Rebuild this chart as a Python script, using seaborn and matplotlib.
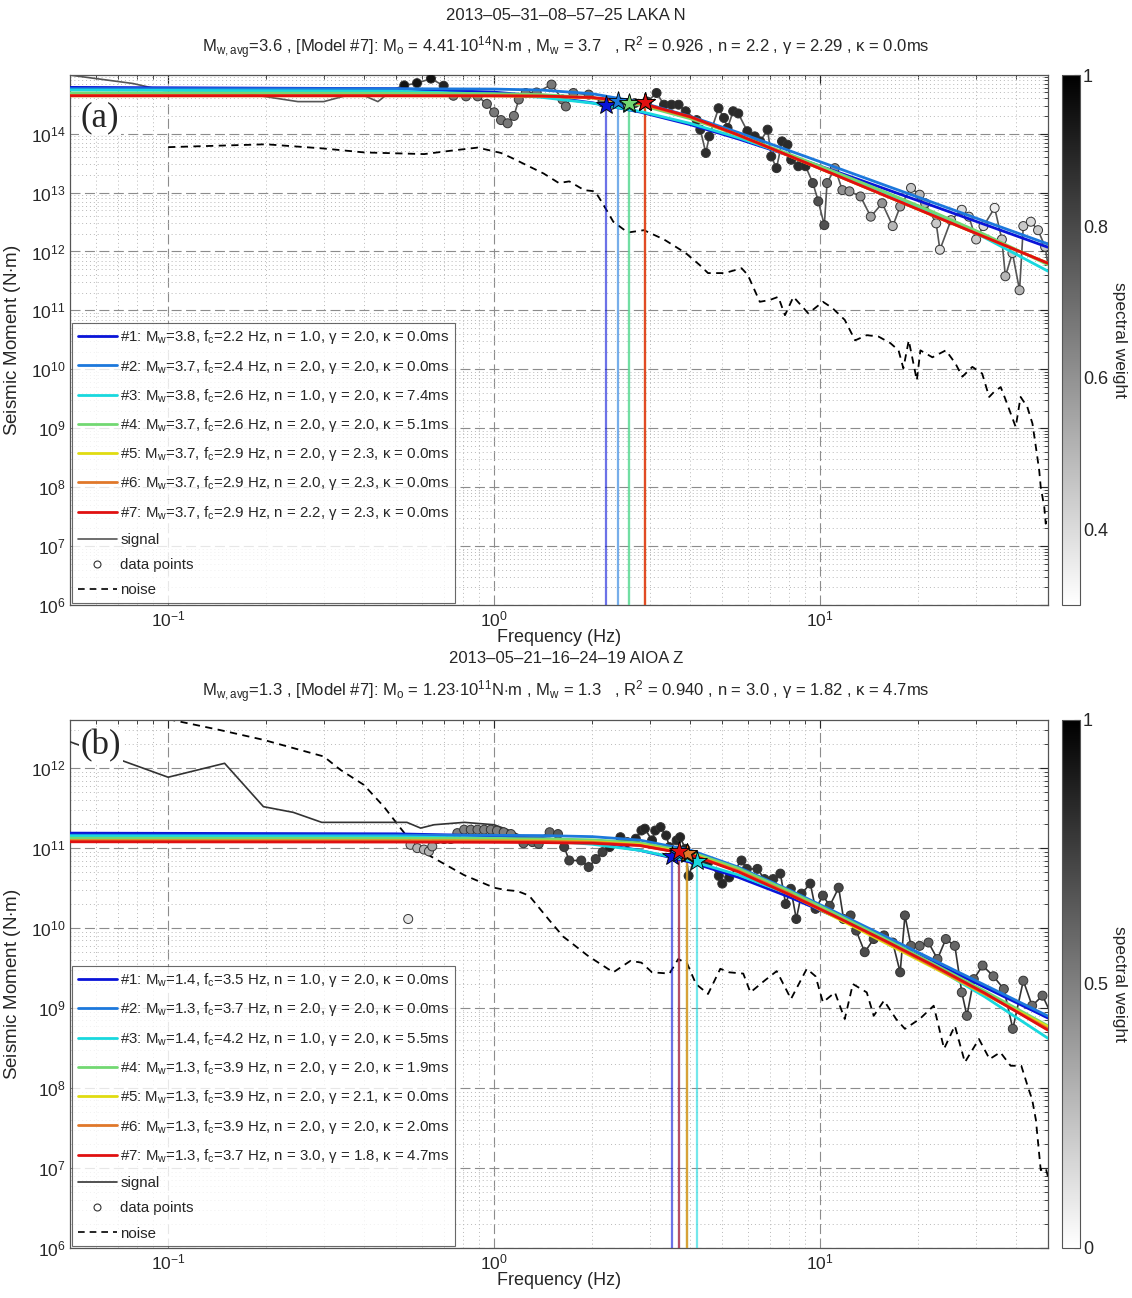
import numpy as np
import matplotlib
matplotlib.use("Agg")
import matplotlib.pyplot as plt
from matplotlib.lines import Line2D
from matplotlib.ticker import FixedLocator, LogLocator, NullFormatter
from matplotlib.colors import Normalize
from matplotlib.cm import ScalarMappable
import seaborn as sns

sns.set_style("white")
plt.rcParams['font.family'] = ['Liberation Sans', 'DejaVu Sans']
plt.rcParams['mathtext.fontset'] = 'custom'
plt.rcParams['mathtext.rm'] = 'Liberation Sans'
plt.rcParams['mathtext.it'] = 'Liberation Sans:italic'
plt.rcParams['mathtext.bf'] = 'Liberation Sans:bold'

# ---------------- panel (a) : 2013-05-31-08-57-25 LAKA N ----------------
title1_a = "2013\u201305\u201331\u201308\u201357\u201325 LAKA N"
title2_a = (r"M$_\mathrm{w,avg}$=3.6 , [Model #7]: M$_\mathrm{o}$ = 4.41$\cdot$10$^{14}$N$\cdot$m , "
            r"M$_\mathrm{w}$ = 3.7   , R$^2$ = 0.926 , n = 2.2 , γ = 2.29 , κ = 0.0ms")

sig_a_f = [0.049, 0.078, 0.097, 0.15, 0.25, 0.30, 0.35, 0.40, 0.44, 0.49, 0.53, 0.58, 0.64, 0.70,
           0.75, 0.82, 0.89, 0.95, 1.0, 1.05, 1.10, 1.15, 1.19, 1.25, 1.35, 1.50, 1.62, 1.66, 1.75,
           1.95, 2.15, 2.4, 2.7, 2.95, 3.15, 3.32, 3.5, 3.68, 3.87, 4.18, 4.29, 4.46, 4.57, 4.88,
           5.07, 5.20, 5.41, 5.61, 5.98, 6.3, 6.55, 6.9, 7.08, 7.35, 7.64, 7.94, 8.15, 8.57, 9.02,
           9.5, 9.87, 10.3, 10.5, 11.1, 11.7, 12.3, 13.3, 14.3, 15.5, 16.7, 17.6, 19.0, 20.2, 21.0,
           22.7, 23.3, 25.2, 27.2, 28.6, 30.1, 31.7, 34.3, 36.1, 37.0, 38.9, 40.9, 42.0, 44.3, 46.6,
           49.0, 50.0]
sig_a_m = [1.0e15, 7.1e14, 5.4e14, 5.4e14, 3.5e14, 3.5e14, 4.4e14, 4.4e14, 3.5e14, 5.6e14, 6.6e14,
           7.2e14, 8.6e14, 6.5e14, 4.4e14, 4.3e14, 4.3e14, 3.2e14, 2.3e14, 1.7e14, 1.5e14, 2.0e14,
           3.8e14, 4.9e14, 5.0e14, 6.8e14, 3.8e14, 2.9e14, 4.9e14, 4.6e14, 3.4e14, 3.3e14, 3.3e14,
           3.5e14, 4.9e14, 3.1e14, 3.1e14, 3.1e14, 2.4e14, 1.7e14, 1.17e14, 4.7e13, 9.0e13, 2.7e14,
           1.85e14, 1.25e14, 2.4e14, 2.2e14, 1.1e14, 9.0e13, 7.4e13, 1.17e14, 4.1e13, 2.6e13, 7.4e13,
           6.5e13, 3.6e13, 2.8e13, 2.8e13, 1.45e13, 7.1e12, 2.8e12, 1.45e13, 2.6e13, 1.1e13, 1.05e13,
           8.6e12, 3.9e12, 6.6e12, 2.7e12, 5.8e12, 1.2e13, 9.2e12, 6.6e12, 3.0e12, 1.07e12, 3.4e12,
           5.1e12, 3.9e12, 1.6e12, 2.7e12, 5.5e12, 1.6e12, 3.8e11, 9.4e11, 2.2e11, 2.7e12, 3.2e12,
           2.3e12, 1.2e12, 5.9e11]

# data points (a) sit on the signal between 0.53 Hz and 49 Hz
pts_a_f = sig_a_f[10:90]
pts_a_m = sig_a_m[10:90]
pts_a_w = [0.95, 0.95, 0.95, 0.9, 0.67, 0.67, 0.67, 0.67, 0.67, 0.67, 0.67, 0.67, 0.67, 0.67,
           0.67, 0.67, 0.67, 0.67, 0.67, 0.7, 0.75, 0.75, 0.8, 0.85,
           0.88, 0.88, 0.88, 0.88, 0.88, 0.88, 0.88, 0.88, 0.88, 0.88, 0.88, 0.88, 0.88, 0.88,
           0.88, 0.88, 0.88, 0.88, 0.88, 0.88, 0.88, 0.88, 0.88, 0.88, 0.88,
           0.8, 0.78, 0.78, 0.7, 0.6, 0.6, 0.58, 0.6, 0.55, 0.6, 0.5, 0.55, 0.45, 0.5, 0.5, 0.45,
           0.4, 0.45, 0.4, 0.45, 0.45, 0.4, 0.35, 0.45, 0.5, 0.45, 0.5, 0.45, 0.4, 0.45, 0.45]

noise_a_f = [0.1, 0.15, 0.2, 0.3, 0.4, 0.61, 0.75, 0.89, 1.05, 1.13, 1.42, 1.58, 1.70, 1.89, 2.04,
             2.15, 2.32, 2.57, 2.88, 3.32, 3.87, 4.27, 4.53, 5.1, 5.74, 6.0, 6.53, 7.0, 7.44, 7.8,
             8.28, 9.2, 10.2, 10.9, 11.9, 12.8, 13.9, 15.1, 16.4, 17.4, 18.0, 18.7, 19.8, 20.3,
             22.1, 24.3, 26.0, 27.3, 29.3, 31.4, 33.0, 34.1, 35.8, 37.1, 39.8, 41.2, 43.2, 44.8,
             45.9, 47.0, 47.5, 48.7, 49.2, 49.8]
noise_a_m = [5.9e13, 6.3e13, 6.6e13, 5.6e13, 4.8e13, 4.5e13, 5.2e13, 5.8e13, 4.7e13, 3.9e13,
             2.1e13, 1.45e13, 1.55e13, 1.1e13, 1.05e13, 6.6e12, 3.2e12, 2.1e12, 2.3e12, 1.6e12,
             9.4e11, 5.9e11, 4.3e11, 4.3e11, 5.2e11, 4.0e11, 1.4e11, 1.5e11, 1.7e11, 8.3e10,
             1.7e11, 8.9e10, 1.4e11, 1.1e11, 6.9e10, 3.1e10, 3.8e10, 3.6e10, 2.8e10, 2.1e10,
             1.04e10, 3.1e10, 6.5e9, 2.1e10, 1.6e10, 2.1e10, 1.26e10, 7.5e9, 1.1e10, 8.5e9,
             3.4e9, 4.1e9, 5.0e9, 3.0e9, 1.05e9, 3.4e9, 2.3e9, 1.2e9, 4.8e8, 1.9e8, 1.0e8,
             4.6e7, 2.4e7, 3.1e7]

# model spectra read at these frequencies
model_f = [0.05, 0.5, 1, 1.4, 2, 2.8, 4, 5.6, 8, 11, 16, 22, 32, 50]

mod_a = [
    [6.1e14, 5.80e14, 5.06e14, 4.34e14, 3.34e14, 2.33e14, 1.42e14, 8.16e13, 4.29e13, 2.35e13, 1.13e13, 6.04e12, 2.87e12, 1.18e12],
    [5.8e14, 5.79e14, 5.71e14, 5.49e14, 4.76e14, 3.43e14, 1.96e14, 1.05e14, 5.2e13, 2.76e13, 1.30e13, 6.9e12, 3.26e12, 1.34e12],
    [5.5e14, 5.24e14, 4.68e14, 4.13e14, 3.30e14, 2.39e14, 1.49e14, 8.56e13, 4.36e13, 2.25e13, 9.76e12, 4.55e12, 1.71e12, 4.64e11],
    [4.9e14, 4.86e14, 4.77e14, 4.60e14, 4.08e14, 3.06e14, 1.79e14, 9.45e13, 4.53e13, 2.29e13, 1.00e13, 4.81e12, 1.94e12, 5.95e11],
    [4.4e14, 4.4e14, 4.38e14, 4.32e14, 4.05e14, 3.23e14, 1.895e14, 9.47e13, 4.24e13, 2.05e13, 8.66e12, 4.16e12, 1.76e12, 6.31e11],
    [4.4e14, 4.4e14, 4.38e14, 4.32e14, 4.05e14, 3.23e14, 1.895e14, 9.47e13, 4.24e13, 2.05e13, 8.66e12, 4.16e12, 1.76e12, 6.31e11],
    [4.4e14, 4.4e14, 4.39e14, 4.35e14, 4.12e14, 3.34e14, 1.936e14, 9.54e13, 4.25e13, 2.05e13, 8.66e12, 4.16e12, 1.76e12, 6.31e11],
]
mw_a = [3.8, 3.7, 3.8, 3.7, 3.7, 3.7, 3.7]
fc_a = [2.2, 2.4, 2.6, 2.6, 2.9, 2.9, 2.9]
n_a = [1.0, 2.0, 1.0, 2.0, 2.0, 2.0, 2.2]
gam_a = [2.0, 2.0, 2.0, 2.0, 2.3, 2.3, 2.3]
kap_a = [0.0, 0.0, 7.4, 5.1, 0.0, 0.0, 0.0]
star_a = [3.1e14, 3.6e14, 3.2e14, 3.3e14, 3.4e14, 3.4e14, 3.4e14]

# ---------------- panel (b) : 2013-05-21-16-24-19 AIOA Z ----------------
title1_b = "2013\u201305\u201321\u201316\u201324\u201319 AIOA Z"
title2_b = (r"M$_\mathrm{w,avg}$=1.3 , [Model #7]: M$_\mathrm{o}$ = 1.23$\cdot$10$^{11}$N$\cdot$m , "
            r"M$_\mathrm{w}$ = 1.3   , R$^2$ = 0.940 , n = 3.0 , γ = 1.82 , κ = 4.7ms")

sig_b_f = [0.049, 0.069, 0.1, 0.149, 0.196, 0.242, 0.296, 0.38, 0.54, 0.595, 0.654, 0.81, 1.0, 1.1,
           1.2, 1.31, 1.48, 1.57, 1.64, 1.70, 1.85, 1.95, 2.05, 2.15, 2.26, 2.44, 2.56, 2.72, 2.83,
           2.90, 3.05, 3.12, 3.24, 3.37, 3.45, 3.63, 3.72, 3.86, 3.95, 4.10, 4.31, 4.54, 4.89, 5.01,
           5.26, 5.74, 5.96, 6.42, 6.75, 7.18, 7.55, 7.84, 8.13, 8.45, 8.77, 9.33, 9.68, 10.2, 10.7,
           11.4, 11.8, 12.4, 12.9, 13.7, 14.6, 15.7, 16.7, 17.6, 18.2, 19.0, 20.2, 21.5, 22.9, 24.3,
           25.9, 27.2, 28.2, 29.6, 31.5, 34.0, 36.6, 39.0, 42.0, 44.7, 48.1, 50.0]
sig_b_m = [2.2e12, 1.33e12, 7.7e11, 1.15e12, 3.3e11, 2.8e11, 2.1e11, 2.1e11, 2.1e11, 1.78e11,
           1.96e11, 2.1e11, 1.96e11, 1.7e11, 1.44e11, 1.19e11, 1.58e11, 1.5e11, 1.03e11, 7.0e10,
           7.0e10, 5.8e10, 7.3e10, 8.9e10, 1.03e11, 1.37e11, 1.19e11, 1.31e11, 1.66e11, 1.75e11,
           1.25e11, 1.66e11, 1.83e11, 1.44e11, 1.03e11, 1.25e11, 1.37e11, 9.8e10, 4.5e10, 7.0e10,
           7.3e10, 6.7e10, 4.5e10, 3.6e10, 4.3e10, 7.0e10, 5.5e10, 5.5e10, 4.1e10, 4.1e10, 4.8e10,
           2.0e10, 3.1e10, 1.3e10, 2.7e10, 3.6e10, 1.74e10, 2.55e10, 1.9e10, 3.2e10, 1.3e10,
           1.44e10, 9.3e9, 5.0e9, 7.3e9, 8.1e9, 6.6e9, 2.8e9, 1.44e10, 6.0e9, 6.0e9, 6.6e9, 4.1e9,
           7.3e9, 6.0e9, 1.57e9, 8.0e8, 2.3e9, 3.4e9, 2.5e9, 1.73e9, 5.5e8, 2.2e9, 1.07e9, 1.43e9,
           1.02e9]

# data points (b): low-frequency points below the signal, then points on the signal (1.64-48 Hz)
pts_b_lo_f = [0.545, 0.554, 0.581, 0.609, 0.631, 0.646, 0.669, 0.702, 0.736, 0.771, 0.809, 0.848,
              0.889, 0.932, 0.977, 1.02, 1.07, 1.126, 1.23, 1.31, 1.37, 1.48, 1.57]
pts_b_lo_m = [1.3e10, 1.1e11, 1.0e11, 9.6e10, 9.1e10, 1.05e11, 1.3e11, 1.3e11, 1.3e11, 1.54e11,
              1.7e11, 1.7e11, 1.7e11, 1.7e11, 1.7e11, 1.65e11, 1.58e11, 1.5e11, 1.15e11, 1.19e11,
              1.13e11, 1.58e11, 1.5e11]
pts_b_lo_w = [0.1, 0.25, 0.3, 0.3, 0.3, 0.35, 0.45, 0.45, 0.45, 0.5, 0.5, 0.5, 0.5, 0.5, 0.5,
              0.5, 0.5, 0.5, 0.6, 0.6, 0.6, 0.6, 0.65]
pts_b_f = pts_b_lo_f + sig_b_f[18:85]
pts_b_m = pts_b_lo_m + sig_b_m[18:85]
pts_b_w = pts_b_lo_w + [0.75, 0.75, 0.75, 0.75, 0.75, 0.75,
                        0.85, 0.85, 0.85, 0.85, 0.85, 0.85, 0.85, 0.85, 0.85, 0.85, 0.85, 0.85,
                        0.85, 0.85, 0.85, 0.85, 0.85, 0.85, 0.85, 0.85, 0.85,
                        0.8, 0.8, 0.8, 0.8, 0.8, 0.8, 0.8, 0.8, 0.8, 0.8, 0.8, 0.8,
                        0.72, 0.72, 0.72, 0.7, 0.72, 0.72, 0.7, 0.72, 0.72, 0.7, 0.72, 0.68,
                        0.62, 0.6, 0.62, 0.6, 0.62, 0.6, 0.58, 0.6, 0.62, 0.6, 0.58, 0.6, 0.62,
                        0.6, 0.58, 0.6]

noise_b_f = [0.1, 0.144, 0.196, 0.300, 0.338, 0.398, 0.459, 0.516, 0.567, 0.639, 0.809, 1.0, 1.08,
             1.18, 1.28, 1.48, 1.63, 1.72, 1.94, 2.32, 2.62, 2.83, 3.05, 3.45, 3.67, 3.91, 4.16,
             4.53, 4.94, 5.26, 5.81, 6.11, 6.75, 7.36, 8.14, 9.1, 9.68, 10.2, 11.1, 11.9, 12.6,
             13.9, 14.6, 15.7, 17.1, 18.2, 20.2, 22.3, 24.0, 25.9, 27.8, 30.7, 33.1, 35.7, 38.4,
             41.4, 43.6, 44.7, 45.9, 47.5, 49.2, 50.0]
noise_b_m = [4.1e12, 3.0e12, 2.26e12, 1.4e12, 9.5e11, 6.2e11, 3.3e11, 1.78e11, 1.1e11, 7.9e10,
             4.6e10, 3.2e10, 3.0e10, 2.9e10, 2.55e10, 1.24e10, 7.8e9, 6.6e9, 4.5e9, 2.8e9, 3.9e9,
             3.7e9, 2.8e9, 2.7e9, 4.1e9, 3.6e9, 2.0e9, 1.5e9, 3.1e9, 2.8e9, 2.7e9, 1.57e9, 2.2e9,
             2.9e9, 1.3e9, 3.1e9, 2.5e9, 1.18e9, 1.57e9, 7.3e8, 2.0e9, 1.57e9, 8.0e8, 1.24e9,
             7.3e8, 5.5e8, 7.3e8, 1.07e9, 3.1e8, 6.0e8, 2.1e8, 4.1e8, 2.3e8, 2.8e8, 1.9e8, 1.9e8,
             9.7e7, 7.2e7, 4.0e7, 9.4e6, 1.0e7, 7.8e6]

mod_b = [
    [1.54e11, 1.509e11, 1.424e11, 1.328e11, 1.161e11, 9.39e10, 6.68e10, 4.33e10, 2.47e10, 1.415e10, 7.03e9, 3.80e9, 1.82e9, 7.51e8],
    [1.45e11, 1.45e11, 1.446e11, 1.435e11, 1.392e11, 1.258e11, 9.43e10, 5.80e10, 3.03e10, 1.63e10, 7.74e9, 4.10e9, 1.94e9, 7.94e8],
    [1.42e11, 1.388e11, 1.321e11, 1.247e11, 1.118e11, 9.37e10, 6.95e10, 4.64e10, 2.67e10, 1.494e10, 6.94e9, 3.41e9, 1.383e9, 4.19e8],
    [1.33e11, 1.326e11, 1.319e11, 1.308e11, 1.271e11, 1.163e11, 8.95e10, 5.61e10, 2.93e10, 1.553e10, 7.17e9, 3.67e9, 1.632e9, 6.0e8],
    [1.24e11, 1.24e11, 1.238e11, 1.232e11, 1.204e11, 1.110e11, 8.53e10, 5.25e10, 2.68e10, 1.395e10, 6.39e9, 3.28e9, 1.49e9, 5.84e8],
    [1.24e11, 1.236e11, 1.230e11, 1.219e11, 1.184e11, 1.083e11, 8.33e10, 5.22e10, 2.73e10, 1.443e10, 6.65e9, 3.39e9, 1.507e9, 5.51e8],
    [1.2e11, 1.191e11, 1.182e11, 1.173e11, 1.151e11, 1.077e11, 8.31e10, 5.07e10, 2.65e10, 1.434e10, 6.79e9, 3.50e9, 1.54e9, 5.29e8],
]
mw_b = [1.4, 1.3, 1.4, 1.3, 1.3, 1.3, 1.3]
fc_b = [3.5, 3.7, 4.2, 3.9, 3.9, 3.9, 3.7]
n_b = [1.0, 2.0, 1.0, 2.0, 2.0, 2.0, 3.0]
gam_b = [2.0, 2.0, 2.0, 2.0, 2.1, 2.0, 1.8]
kap_b = [0.0, 0.0, 5.5, 1.9, 0.0, 2.0, 4.7]
star_b = [7.9e10, 8.8e10, 7.0e10, 8.5e10, 8.6e10, 8.7e10, 9.3e10]

model_colors = ['#0a14d8', '#1c78dc', '#18d8de', '#72d872', '#e0dc10', '#e0782a', '#e01010']

freq_ticks = [0.1, 1, 10]

W, H = 1132, 1298


def draw_panel(ax, cax, sig_f, sig_m, pts_f, pts_m, pts_w, noise_f, noise_m, mods, mw, fc, nn,
               gam, kap, stars, ylim, yticks, wrange, cticks, tag, tag_y, sig_color):
    ax.set_xscale('log')
    ax.set_yscale('log')

    sns.lineplot(x=noise_f, y=noise_m, ax=ax, color='black', lw=1.3, sort=False,
                 estimator=None, zorder=2).lines[-1].set_dashes((4, 3))
    sns.lineplot(x=sig_f, y=sig_m, ax=ax, color=sig_color, lw=1.2, sort=False,
                 estimator=None, zorder=3)
    sns.scatterplot(x=pts_f, y=pts_m, hue=pts_w, palette='gray_r', hue_norm=wrange, ax=ax,
                    s=42, edgecolor='#333333', linewidth=0.7, legend=False, zorder=4)

    for i in range(7):
        ax.vlines(fc[i], ylim[0], stars[i], colors=model_colors[i], alpha=0.6, lw=1.6, zorder=5)
    for i in range(7):
        sns.lineplot(x=model_f, y=mods[i], ax=ax, color=model_colors[i], lw=2.0, sort=False,
                     estimator=None, zorder=6)
    for i in range(7):
        ax.plot(fc[i], stars[i], marker='*', ms=15, mfc=model_colors[i], mec='black',
                mew=0.6, ls='none', zorder=7)

    ax.set_xlim(0.05, 50)
    ax.set_ylim(*ylim)
    ax.xaxis.set_major_locator(FixedLocator(freq_ticks))
    ax.xaxis.set_minor_locator(LogLocator(base=10, subs=np.arange(2, 10), numticks=100))
    ax.yaxis.set_major_locator(FixedLocator(yticks))
    ax.yaxis.set_minor_locator(LogLocator(base=10, subs=np.arange(2, 10), numticks=100))
    ax.xaxis.set_minor_formatter(NullFormatter())
    ax.yaxis.set_minor_formatter(NullFormatter())
    ax.grid(True, which='major', color='#8c8c8c', ls=(0, (9, 4)), lw=0.8)
    ax.grid(True, which='minor', color='#b8b8b8', ls=(0, (1, 3)), lw=0.7)
    ax.set_axisbelow(True)
    ax.tick_params(which='both', direction='in', top=True, right=True, labelsize=12.5)
    ax.tick_params(which='major', length=6, pad=3)
    ax.tick_params(which='minor', length=3)
    for sp in ax.spines.values():
        sp.set_color('#555555')
        sp.set_linewidth(0.9)
    ax.set_xlabel('Frequency (Hz)', fontsize=13, labelpad=0)
    ax.set_ylabel('Seismic Moment (N$\\cdot$m)', fontsize=13.5, labelpad=6)

    ax.text(0.011, tag_y, tag, transform=ax.transAxes, fontsize=25, va='center', ha='left',
            family='Liberation Serif', zorder=10,
            bbox=dict(facecolor='white', edgecolor='none', pad=1))

    handles = []
    labels = []
    for i in range(7):
        handles.append(Line2D([], [], color=model_colors[i], lw=2.0))
        labels.append(f"#{i + 1}: M$_\\mathrm{{w}}$={mw[i]:.1f}, f$_\\mathrm{{c}}$={fc[i]:.1f} Hz, "
                      f"n = {nn[i]:.1f}, γ = {gam[i]:.1f}, κ = {kap[i]:.1f}ms")
    handles.append(Line2D([], [], color=sig_color, lw=1.2))
    labels.append('signal')
    handles.append(Line2D([], [], color='#333333', marker='o', ms=5, mfc='white', mew=0.8,
                          ls='none'))
    labels.append('data points')
    handles.append(Line2D([], [], color='black', lw=1.2, dashes=(4, 3)))
    labels.append('noise')
    leg = ax.legend(handles, labels, loc='lower left', fontsize=10.8, frameon=True,
                    fancybox=False, borderaxespad=0.15, handlelength=2.6, handletextpad=0.25,
                    labelspacing=0.75, borderpad=0.35)
    leg.get_frame().set_edgecolor('#444444')
    leg.get_frame().set_linewidth(0.8)
    leg.set_zorder(20)

    sm = ScalarMappable(norm=Normalize(*wrange), cmap='gray_r')
    cb = plt.colorbar(sm, cax=cax)
    cb.set_ticks(cticks)
    cb.set_ticklabels([f"{t:g}" for t in cticks])
    cb.outline.set_edgecolor('#555555')
    cb.outline.set_linewidth(0.8)
    cax.tick_params(direction='in', length=4, labelsize=13, pad=2)
    cb.set_label('spectral weight', rotation=270, fontsize=12.5, labelpad=14)


fig = plt.figure(figsize=(W / 100, H / 100), dpi=100)

ax_a = fig.add_axes([70 / W, 1 - 605 / H, 978 / W, 530 / H])
cax_a = fig.add_axes([1062 / W, 1 - 605 / H, 18 / W, 530 / H])
ax_b = fig.add_axes([70 / W, 1 - 1248 / H, 978 / W, 528 / H])
cax_b = fig.add_axes([1062 / W, 1 - 1248 / H, 18 / W, 528 / H])

draw_panel(ax_a, cax_a, sig_a_f, sig_a_m, pts_a_f, pts_a_m, pts_a_w, noise_a_f, noise_a_m,
           mod_a, mw_a, fc_a, n_a, gam_a, kap_a, star_a, (1e6, 9.9e14),
           [1e6, 1e7, 1e8, 1e9, 1e10, 1e11, 1e12, 1e13, 1e14], (0.3, 1.0),
           [0.4, 0.6, 0.8, 1.0], '(a)', 0.92, '#555555')
draw_panel(ax_b, cax_b, sig_b_f, sig_b_m, pts_b_f, pts_b_m, pts_b_w, noise_b_f, noise_b_m,
           mod_b, mw_b, fc_b, n_b, gam_b, kap_b, star_b, (1e6, 4e12),
           [1e6, 1e7, 1e8, 1e9, 1e10, 1e11, 1e12], (0.0, 1.0),
           [0, 0.5, 1.0], '(b)', 0.952, '#333333')

fig.text(566 / W, 1 - 15 / H, title1_a, ha='center', va='center', fontsize=12)
fig.text(566 / W, 1 - 48 / H, title2_a, ha='center', va='center', fontsize=12)
fig.text(566 / W, 1 - 658 / H, title1_b, ha='center', va='center', fontsize=12)
fig.text(566 / W, 1 - 692 / H, title2_b, ha='center', va='center', fontsize=12)

fig.savefig('out.png', dpi=100)
